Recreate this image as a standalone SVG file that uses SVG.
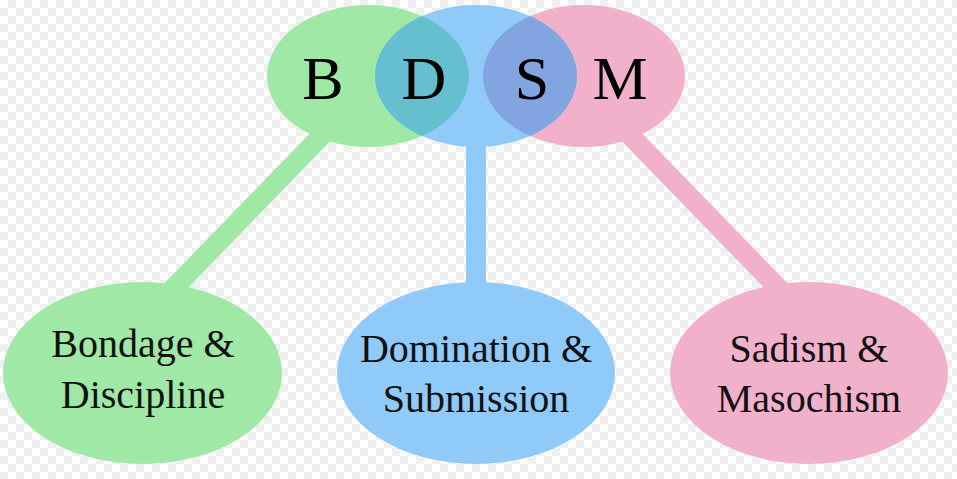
<svg xmlns="http://www.w3.org/2000/svg" width="957" height="479" viewBox="0 0 957 479">
<defs>
<pattern id="checker" width="16" height="16" patternUnits="userSpaceOnUse">
<rect width="16" height="16" fill="#ffffff"/>
<rect x="8" y="0" width="8" height="8" fill="#efefef"/>
<rect x="0" y="8" width="8" height="8" fill="#efefef"/>
</pattern>
<clipPath id="clipGreen"><ellipse cx="368" cy="76" rx="101" ry="71"/></clipPath>
<clipPath id="clipPink"><ellipse cx="584" cy="76" rx="101" ry="71"/></clipPath>
<style>
.g{fill:#9fe8a6}
.b{fill:#90caf9}
.p{fill:#f1b1cb}
.conn{stroke-width:20;fill:none;stroke-linecap:butt}
.big{font-family:"Liberation Serif","Times New Roman",serif;font-size:62px;fill:#000;text-anchor:middle}
.lbl{font-family:"Liberation Serif","Times New Roman",serif;font-size:40px;fill:#111;text-anchor:middle}
</style>
</defs>
<rect width="957" height="479" fill="url(#checker)"/>
<g id="connectors">
<line class="conn" x1="170" y1="292" x2="335" y2="122" stroke="#9fe8a6"/>
<line class="conn" x1="476" y1="120" x2="476" y2="300" stroke="#90caf9"/>
<line class="conn" x1="782" y1="292" x2="617" y2="122" stroke="#f1b1cb"/>
</g>
<g id="bdsm">
<ellipse class="g" cx="368" cy="76" rx="101" ry="71"/>
<ellipse class="p" cx="584" cy="76" rx="101" ry="71"/>
<ellipse class="b" cx="476" cy="76" rx="101" ry="71"/>
<ellipse cx="476" cy="76" rx="101" ry="71" fill="#66bfcf" clip-path="url(#clipGreen)"/>
<ellipse cx="476" cy="76" rx="101" ry="71" fill="#82a4e0" clip-path="url(#clipPink)"/>
<text class="big" x="323" y="99">B</text>
<text class="big" x="424" y="99">D</text>
<text class="big" x="532" y="99">S</text>
<text class="big" x="620" y="99">M</text>
</g>
<g id="bd">
<ellipse class="g" cx="142.5" cy="373" rx="139.5" ry="91"/>
<text class="lbl" x="143" y="357">Bondage &amp;</text>
<text class="lbl" x="143" y="408">Discipline</text>
</g>
<g id="ds">
<ellipse class="b" cx="476" cy="373" rx="139" ry="91"/>
<text class="lbl" x="476" y="362">Domination &amp;</text>
<text class="lbl" x="476" y="412">Submission</text>
</g>
<g id="sm">
<ellipse class="p" cx="809" cy="373" rx="139" ry="91"/>
<text class="lbl" x="809" y="362">Sadism &amp;</text>
<text class="lbl" x="809" y="412">Masochism</text>
</g>
</svg>
